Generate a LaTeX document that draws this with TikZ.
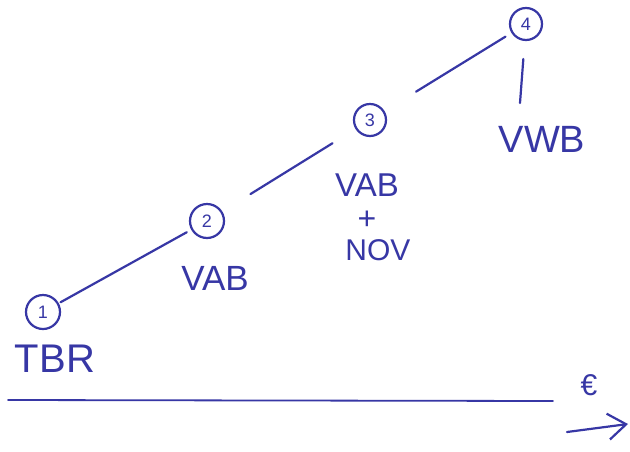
\documentclass[tikz,border=0pt]{standalone}
\usepackage{fontspec}
\setmainfont{Liberation Sans}
\usetikzlibrary{arrows.meta}
\definecolor{ink}{RGB}{55,55,165}
\tikzset{
  stage/.style={circle, draw=ink, line width=2.2pt, minimum size=32pt, inner sep=0pt, text=ink, font=\fontsize{18}{18}\selectfont},
  lbl/.style={text=ink, inner sep=0pt},
  link/.style={draw=ink, line width=2.2pt, line cap=round}
}
\begin{document}
\begin{tikzpicture}[x=1pt,y=-1pt]
\useasboundingbox (0,0) rectangle (630,451);
\fill[white] (0,0) rectangle (630,451);
\node[stage, minimum size=34pt] (c1) at (43,312) {1};
\node[stage, minimum size=34pt] (c2) at (207,221) {2};
\node[stage] (c3) at (370,120) {3};
\node[stage] (c4) at (526,24) {4};
\node[lbl, font=\fontsize{40}{40}\selectfont] (t1) at (55,359) {TBR};
\node[lbl, font=\fontsize{35}{35}\selectfont] (t2) at (215,278) {VAB};
\node[lbl, font=\fontsize{33}{33}\selectfont] (t3a) at (367,185) {VAB};
\node[lbl, font=\fontsize{32}{32}\selectfont] (t3b) at (367,220) {+};
\node[lbl, font=\fontsize{30}{30}\selectfont] (t3c) at (378,250) {NOV};
\node[lbl, font=\fontsize{38}{38}\selectfont] (t4) at (542,139) {VWB};
\node[lbl, font=\fontsize{30}{30}\selectfont] (eur) at (589,385) {€};
\draw[link, shorten <=2pt, shorten >=5pt] (c1) -- (c2);
\draw[link, shorten <=33pt, shorten >=27pt] (c2) -- (c3);
\draw[link, shorten <=37pt, shorten >=7pt] (c3) -- (c4);
\coordinate (v4) at (520,103);
\draw[link, shorten <=18pt] (c4) -- (v4);
\coordinate (axl) at (8,400);
\coordinate (axr) at (553,401);
\draw[link, line width=1.8pt] (axl) -- (axr);
\coordinate (arl) at (567,432);
\coordinate (arr) at (628,424);
\draw[link, -{Straight Barb[length=18pt, width=26pt, line width=2.2pt]}] (arl) -- (arr);
\end{tikzpicture}
\end{document}
